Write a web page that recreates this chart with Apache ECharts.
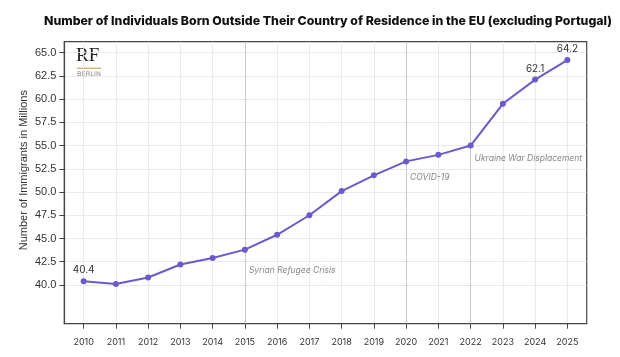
<!DOCTYPE html>
<html>
<head>
<meta charset="utf-8">
<script src="https://cdn.jsdelivr.net/npm/echarts@6/dist/echarts.min.js"></script>
<style>
html,body{margin:0;padding:0;background:#fff;}
#chart{width:620px;height:357px;}
</style>
</head>
<body>
<div id="chart"></div>
<script>
const years = [2010, 2011, 2012, 2013, 2014, 2015, 2016, 2017, 2018, 2019, 2020, 2021, 2022, 2023, 2024, 2025];
const immigrants = [40.4, 40.1, 40.8, 42.2, 42.9, 43.8, 45.4, 47.5, 50.1, 51.8, 53.3, 54.0, 55.0, 59.5, 62.1, 64.2];
const labeledYears = [2010, 2024, 2025];
const yTicks = [40, 42.5, 45, 47.5, 50, 52.5, 55, 57.5, 60, 62.5, 65];
const eventYears = [2015, 2020, 2022];
const eventNames = ['Syrian Refugee Crisis', 'COVID-19', 'Ukraine War Displacement'];
const eventLabelY = [41.55, 51.6, 53.65];

const chart = echarts.init(document.getElementById('chart'), null, {renderer: 'canvas'});

const lineData = years.map((y, i) => [y, immigrants[i]]);
const eventData = eventYears.map((y, i) => ({value: [y, eventLabelY[i]], name: eventNames[i]}));

const option = {
  backgroundColor: '#fff',
  animation: false,
  title: {
    text: 'Number of Individuals Born Outside Their Country of Residence in the EU (excluding Portugal)',
    left: 323,
    textAlign: 'center',
    top: 10,
    textStyle: {fontFamily: 'Inter', fontWeight: 800, fontSize: 12.3, color: '#111'}
  },
  grid: {
    left: 64.3, right: 33.3, top: 41.7, bottom: 33.3,
    show: true, borderColor: '#444', borderWidth: 1.2, backgroundColor: 'transparent'
  },
  xAxis: {
    type: 'value',
    min: 2009.4,
    max: 2025.6,
    axisLine: {show: true, onZero: false, lineStyle: {color: '#444', width: 1.2}},
    axisTick: {show: true, length: 5, inside: false, customValues: years, lineStyle: {color: '#444', width: 1}},
    axisLabel: {customValues: years, formatter: v => String(v), margin: 14, fontFamily: 'Inter', fontSize: 9, color: '#333'},
    splitLine: {show: true, lineStyle: {color: '#e4e4e4', width: 0.8}}
  },
  yAxis: {
    type: 'value',
    min: 35.83,
    max: 66.18,
    name: 'Number of Immigrants in Millions',
    nameLocation: 'middle',
    nameGap: 35,
    nameMoveOverlap: false,
    nameTextStyle: {fontFamily: 'Liberation Sans', fontSize: 11, color: '#333', padding: [0, 0, 0, 25]},
    axisLine: {show: true, lineStyle: {color: '#444', width: 1.2}},
    axisTick: {show: true, length: 5, customValues: yTicks, lineStyle: {color: '#444', width: 1}},
    axisLabel: {customValues: yTicks, formatter: v => v.toFixed(1), margin: 8, fontFamily: 'Liberation Sans', fontSize: 11, color: '#333'},
    splitLine: {show: true, lineStyle: {color: '#e4e4e4', width: 0.8}}
  },
  graphic: [
    {type: 'text', left: 76, top: 47, style: {text: 'RF', font: '19px "Liberation Serif"', fill: '#222'}},
    {type: 'rect', shape: {x: 77, y: 67.6, width: 24, height: 1.4}, style: {fill: '#d6b46e'}},
    {type: 'text', left: 77, top: 70.6, style: {text: 'BERLIN', font: '6.6px "DejaVu Sans"', fill: '#8a8a8a'}}
  ],
  series: [
    {
      type: 'line',
      data: lineData,
      z: 5,
      symbol: 'circle',
      symbolSize: 6,
      lineStyle: {color: '#6a5acd', width: 2},
      itemStyle: {color: '#6a5acd'},
      label: {
        show: true,
        position: 'top',
        distance: 3,
        fontFamily: 'Inter',
        fontSize: 10,
        color: '#333',
        formatter: p => labeledYears.includes(p.value[0]) ? p.value[1].toFixed(1) : ''
      },
      markLine: {
        silent: true,
        symbol: ['none', 'none'],
        label: {show: false},
        lineStyle: {color: '#a8a8a8', type: 'dotted', width: 1},
        data: eventYears.map(y => ({xAxis: y}))
      }
    },
    {
      type: 'scatter',
      data: eventData,
      symbolSize: 0,
      silent: true,
      label: {
        show: true,
        position: 'right',
        distance: 4,
        fontFamily: 'Inter',
        fontStyle: 'italic',
        fontSize: 8.5,
        color: '#666',
        formatter: p => p.name
      }
    }
  ]
};
chart.setOption(option);
</script>
</body>
</html>
